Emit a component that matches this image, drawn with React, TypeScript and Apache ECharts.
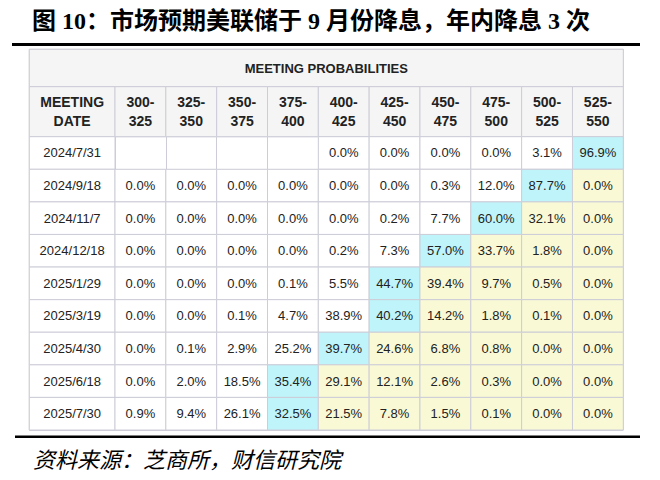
import React, { useEffect, useRef } from 'react';
import * as echarts from 'echarts';

const CHART_TITLE = '图 10：市场预期美联储于 9 月份降息，年内降息 3 次';
const SOURCE = '资料来源：芝商所，财信研究院';
const TABLE_TITLE = 'MEETING PROBABILITIES';
const DATE_HEADER = 'MEETING\nDATE';

const RATE_RANGES = ['300-325', '325-350', '350-375', '375-400', '400-425', '425-450', '450-475', '475-500', '500-525', '525-550'];
const MEETING_DATES = ['2024/7/31', '2024/9/18', '2024/11/7', '2024/12/18', '2025/1/29', '2025/3/19', '2025/4/30', '2025/6/18', '2025/7/30'];

const P_2024_07_31 = [null, null, null, null, 0.0, 0.0, 0.0, 0.0, 3.1, 96.9];
const P_2024_09_18 = [0.0, 0.0, 0.0, 0.0, 0.0, 0.0, 0.3, 12.0, 87.7, 0.0];
const P_2024_11_07 = [0.0, 0.0, 0.0, 0.0, 0.0, 0.2, 7.7, 60.0, 32.1, 0.0];
const P_2024_12_18 = [0.0, 0.0, 0.0, 0.0, 0.2, 7.3, 57.0, 33.7, 1.8, 0.0];
const P_2025_01_29 = [0.0, 0.0, 0.0, 0.1, 5.5, 44.7, 39.4, 9.7, 0.5, 0.0];
const P_2025_03_19 = [0.0, 0.0, 0.1, 4.7, 38.9, 40.2, 14.2, 1.8, 0.1, 0.0];
const P_2025_04_30 = [0.0, 0.1, 2.9, 25.2, 39.7, 24.6, 6.8, 0.8, 0.0, 0.0];
const P_2025_06_18 = [0.0, 2.0, 18.5, 35.4, 29.1, 12.1, 2.6, 0.3, 0.0, 0.0];
const P_2025_07_30 = [0.9, 9.4, 26.1, 32.5, 21.5, 7.8, 1.5, 0.1, 0.0, 0.0];

const ROWS = [P_2024_07_31, P_2024_09_18, P_2024_11_07, P_2024_12_18, P_2025_01_29, P_2025_03_19, P_2025_04_30, P_2025_06_18, P_2025_07_30];

const BORDER = '#CDCDD8';
const HEAD_BG = '#F5F5F5';
const CYAN = '#BEF4FA';
const YELLOW = '#F9F9D5';
const TEXT = '#222222';
const SANS = "'Liberation Sans', Arial, sans-serif";

type Cell = { x: number; y: number; text: string; fill: string; bold?: boolean; size?: number };

export default function App() {
  const ref = useRef<HTMLDivElement>(null);
  useEffect(() => {
    if (!ref.current) return;
    const chart = echarts.init(ref.current, undefined, { renderer: 'svg' });

    const grids = [
      { left: 29.3, top: 49.3, width: 594, height: 37.4 },
      { left: 29.3, top: 86.7, width: 85.7, height: 50 },
      { left: 115, top: 86.7, width: 508.3, height: 50 },
      { left: 29.3, top: 136.7, width: 85.7, height: 293.3 },
      { left: 115, top: 136.7, width: 508.3, height: 293.3 },
    ].map((g) => ({ ...g, show: true, backgroundColor: '#ffffff', borderColor: BORDER, borderWidth: 1, containLabel: false }));

    const catAxis = (gridIndex: number, data: string[], inverse = false) => ({
      type: 'category',
      gridIndex,
      data,
      inverse,
      axisLine: { show: false },
      axisTick: { show: false },
      axisLabel: { show: false },
      splitLine: { show: true, interval: 0, lineStyle: { color: BORDER, width: 1 } },
    });

    const xAxis = [
      catAxis(0, [TABLE_TITLE]),
      catAxis(1, ['date']),
      catAxis(2, RATE_RANGES),
      catAxis(3, ['date']),
      catAxis(4, RATE_RANGES),
    ];
    const yAxis = [
      catAxis(0, ['title']),
      catAxis(1, ['head']),
      catAxis(2, ['head']),
      catAxis(3, MEETING_DATES, true),
      catAxis(4, MEETING_DATES, true),
    ];

    const titleCells: Cell[] = [{ x: 0, y: 0, text: TABLE_TITLE, fill: HEAD_BG, bold: true, size: 13 }];
    const dateHeadCells: Cell[] = [{ x: 0, y: 0, text: DATE_HEADER, fill: HEAD_BG, bold: true, size: 14 }];
    const headCells: Cell[] = RATE_RANGES.map((r, i) => ({ x: i, y: 0, text: r.replace('-', '-\n'), fill: HEAD_BG, bold: true, size: 14 }));
    const dateCells: Cell[] = MEETING_DATES.map((d, i) => ({ x: 0, y: i, text: d, fill: '#ffffff' }));
    const dataCells: Cell[] = [];
    ROWS.forEach((row, r) => {
      let maxI = 0;
      row.forEach((v, i) => {
        if (v !== null && v > (row[maxI] ?? -1)) maxI = i;
      });
      row.forEach((v, i) => {
        if (v === null) return;
        const fill = i === maxI ? CYAN : i > maxI ? YELLOW : '#ffffff';
        dataCells.push({ x: i, y: r, text: v.toFixed(1) + '%', fill });
      });
    });

    const makeSeries = (idx: number, cells: Cell[]) => ({
      type: 'custom',
      xAxisIndex: idx,
      yAxisIndex: idx,
      silent: true,
      data: cells.map((c) => [c.x, c.y]),
      renderItem: (params: any, api: any) => {
        const cell = cells[params.dataIndex];
        const c = api.coord([api.value(0), api.value(1)]);
        const s = api.size([1, 1]);
        return {
          type: 'group',
          children: [
            {
              type: 'rect',
              shape: { x: c[0] - s[0] / 2, y: c[1] - s[1] / 2, width: s[0], height: s[1] },
              style: { fill: cell.fill, stroke: BORDER, lineWidth: 1 },
            },
            {
              type: 'text',
              x: c[0],
              y: c[1],
              style: {
                text: cell.text,
                fill: TEXT,
                fontFamily: SANS,
                fontSize: cell.size ?? 13,
                fontWeight: cell.bold ? 'bold' : 'normal',
                lineHeight: 19,
                align: 'center',
                verticalAlign: 'middle',
              },
            },
          ],
        };
      },
    });

    const series = [
      makeSeries(0, titleCells),
      makeSeries(1, dateHeadCells),
      makeSeries(2, headCells),
      makeSeries(3, dateCells),
      makeSeries(4, dataCells),
    ];

    chart.setOption({
      animation: false,
      backgroundColor: '#ffffff',
      grid: grids,
      xAxis,
      yAxis,
      series,
      graphic: [
        {
          type: 'text', left: 32, top: 9,
          style: {
            text: CHART_TITLE,
            fontFamily: "'Liberation Serif', 'Noto Sans CJK SC', serif",
            fontWeight: 'bold', fontSize: 24, fill: '#000000',
          },
        },
        { type: 'rect', shape: { x: 12, y: 43, width: 628, height: 3 }, style: { fill: '#000000' } },
        { type: 'rect', shape: { x: 15, y: 435.5, width: 625, height: 2.5 }, style: { fill: '#000000' } },
        {
          type: 'text', left: 33, top: 447,
          style: {
            text: SOURCE,
            fontFamily: "'Noto Sans CJK SC', sans-serif",
            fontStyle: 'italic', fontWeight: 'normal', fontSize: 22, fill: '#000000',
          },
        },
      ],
    });
    return () => chart.dispose();
  }, []);
  return <div ref={ref} style={{ position: 'absolute', left: 0, top: 0, width: 660, height: 480 }} />;
}
